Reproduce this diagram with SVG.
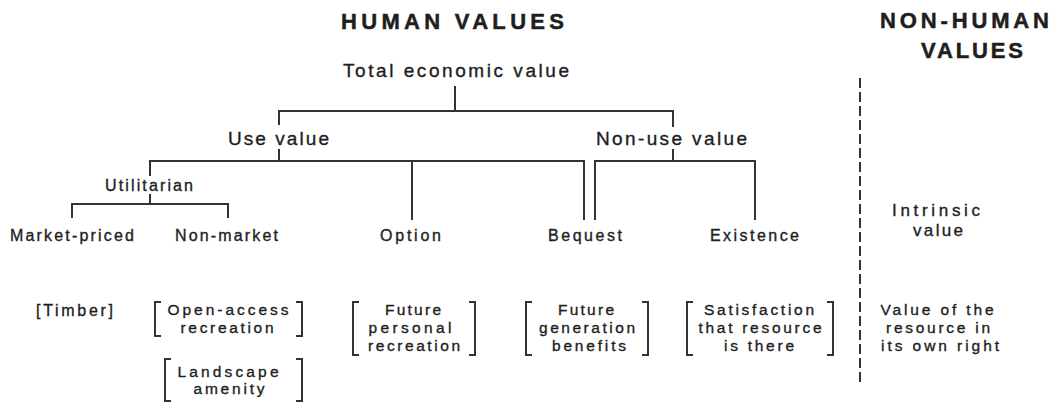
<svg xmlns="http://www.w3.org/2000/svg" width="1057" height="405" viewBox="0 0 1057 405">
<style>
text{font-family:"Liberation Sans",Arial,sans-serif;fill:#1e1e1e;stroke:#1e1e1e;stroke-width:0.35}
.title{font-size:22px;font-weight:bold;stroke-width:0.5}
.l18{font-size:19px}
.l16{font-size:17px}
.l15{font-size:16px}
.s14{font-size:15.5px;text-anchor:middle}
.ln{fill:none;stroke:#333;stroke-width:2}
.br{fill:none;stroke:#333;stroke-width:2}
.dash{fill:none;stroke:#333;stroke-width:2;stroke-dasharray:10 4}
</style>
<rect width="1057" height="405" fill="#fff"/>

<g id="titles">
<text class="title" x="341" y="29" textLength="223" lengthAdjust="spacing">HUMAN VALUES</text>
<text class="title" x="880" y="28" textLength="169" lengthAdjust="spacing">NON-HUMAN</text>
<text class="title" x="921" y="58" textLength="102" lengthAdjust="spacing">VALUES</text>
</g>

<g id="connectors">
<path class="ln" d="M455 86V111"/>
<path class="ln" d="M279 125V111H673V127"/>
<path class="ln" d="M279 149V161"/>
<path class="ln" d="M150 176V161H584V220"/>
<path class="ln" d="M412 161V220"/>
<path class="ln" d="M150 194V204"/>
<path class="ln" d="M72 218V204H228V218"/>
<path class="ln" d="M673 149V161"/>
<path class="ln" d="M595 220V161H755V220"/>
<path class="dash" d="M860 78V384"/>
</g>

<g id="total-economic-value"><text class="l18" x="343" y="77" textLength="226" lengthAdjust="spacing">Total economic value</text></g>
<g id="use-value"><text class="l18" x="228" y="145" textLength="101" lengthAdjust="spacing">Use value</text></g>
<g id="non-use-value"><text class="l18" x="596" y="145" textLength="151" lengthAdjust="spacing">Non-use value</text></g>
<g id="utilitarian"><text class="l15" x="105" y="191" textLength="88" lengthAdjust="spacing">Utilitarian</text></g>
<g id="market-priced"><text class="l15" x="10" y="241" textLength="124" lengthAdjust="spacing">Market-priced</text></g>
<g id="non-market"><text class="l15" x="175" y="241" textLength="103" lengthAdjust="spacing">Non-market</text></g>
<g id="option"><text class="l15" x="380" y="241" textLength="61" lengthAdjust="spacing">Option</text></g>
<g id="bequest"><text class="l15" x="548" y="241" textLength="74" lengthAdjust="spacing">Bequest</text></g>
<g id="existence"><text class="l15" x="710" y="241" textLength="89" lengthAdjust="spacing">Existence</text></g>
<g id="intrinsic-value">
<text class="l16" x="892" y="216" textLength="88" lengthAdjust="spacing">Intrinsic</text>
<text class="l16" x="913" y="236" textLength="50" lengthAdjust="spacing">value</text>
</g>

<g id="timber"><text class="l15" x="36" y="316" textLength="77" lengthAdjust="spacing">[Timber]</text></g>

<g id="open-access">
<path class="br" d="M161 302H155V336H161M296 302H302V336H296"/>
<text class="s14" x="228" y="315" textLength="121" lengthAdjust="spacing">Open-access</text>
<text class="s14" x="227" y="333" textLength="93" lengthAdjust="spacing">recreation</text>
</g>

<g id="landscape">
<path class="br" d="M171 359H165V401H171M296 359H302V401H296"/>
<text class="s14" x="228" y="377" textLength="101" lengthAdjust="spacing">Landscape</text>
<text class="s14" x="229" y="394" textLength="71" lengthAdjust="spacing">amenity</text>
</g>

<g id="future-personal">
<path class="br" d="M359 302H353V355H359M469 302H475V355H469"/>
<text class="s14" x="413" y="315" textLength="56" lengthAdjust="spacing">Future</text>
<text class="s14" x="410" y="333" textLength="83" lengthAdjust="spacing">personal</text>
<text class="s14" x="414" y="351" textLength="92" lengthAdjust="spacing">recreation</text>
</g>

<g id="future-generation">
<path class="br" d="M532 302H526V355H532M642 302H648V355H642"/>
<text class="s14" x="586" y="315" textLength="56" lengthAdjust="spacing">Future</text>
<text class="s14" x="587" y="333" textLength="96" lengthAdjust="spacing">generation</text>
<text class="s14" x="589" y="351" textLength="74" lengthAdjust="spacing">benefits</text>
</g>

<g id="satisfaction">
<path class="br" d="M693 302H687V355H693M827 302H833V355H827"/>
<text class="s14" x="759" y="315" textLength="110" lengthAdjust="spacing">Satisfaction</text>
<text class="s14" x="760" y="333" textLength="123" lengthAdjust="spacing">that resource</text>
<text class="s14" x="759" y="351" textLength="70" lengthAdjust="spacing">is there</text>
</g>

<g id="own-right">
<text class="s14" x="937" y="315" textLength="113" lengthAdjust="spacing">Value of the</text>
<text class="s14" x="938" y="333" textLength="104" lengthAdjust="spacing">resource in</text>
<text class="s14" x="940" y="351" textLength="118" lengthAdjust="spacing">its own right</text>
</g>
</svg>
